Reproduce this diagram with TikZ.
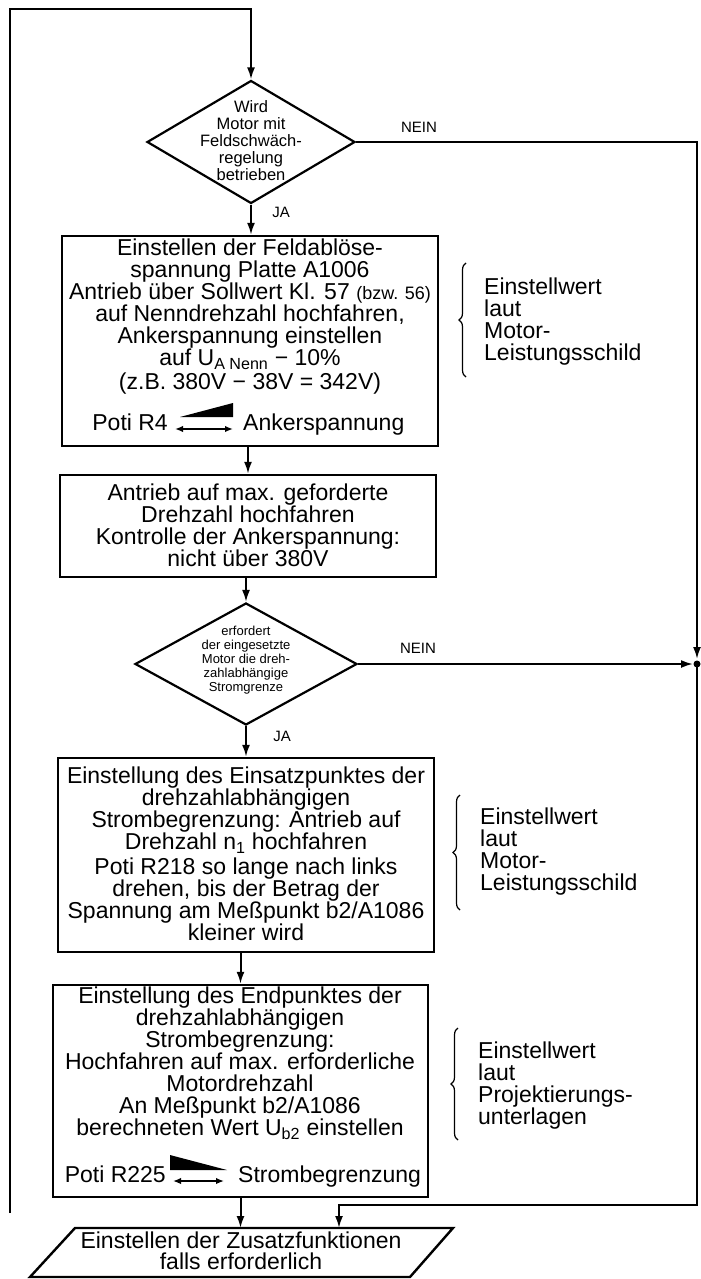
\documentclass[tikz,border=0pt]{standalone}
\usepackage{fontspec}
\setmainfont{Liberation Sans}
\usetikzlibrary{arrows.meta,calc,shapes.geometric,decorations.pathreplacing}
\newcommand{\boxfont}{\fontsize{23}{22}\selectfont}
\newcommand{\diafont}{\fontsize{16.5}{17}\selectfont}
\newcommand{\smalldiafont}{\fontsize{13}{14}\selectfont}
\newcommand{\labfont}{\fontsize{15}{15}\selectfont}

\begin{document}
\begin{tikzpicture}[x=1pt,y=-1pt,>={Latex[length=12pt,width=8pt]},
      box/.style={draw,line width=2.4pt,inner sep=0pt,minimum width=376pt},
      dia/.style={draw,diamond,line width=2.2pt,inner sep=0pt},
      txt/.style={align=center,inner sep=0pt,font=\boxfont},
      lab/.style={inner sep=0pt,font=\labfont},
      flow/.style={line width=2pt},
      potiarrow/.style={<->,line width=1.8pt,>={Latex[length=8pt,width=6.5pt]}},
      brc/.style={decorate,decoration={brace,amplitude=7pt},line width=1.2pt}]

      \useasboundingbox (0,0) rectangle (701,1279);

      % decisions
      \node[dia,minimum width=208pt,minimum height=123pt] (d1) at (251, 142) {};
      \node[dia,minimum width=222pt,minimum height=122pt] (d2) at (246, 664) {};
      \node[align=center,inner sep=0pt,font=\diafont] (d1t) at (251, 141)
        {Wird\\Motor mit\\Feldschwäch-\\regelung\\betrieben};
      \node[align=center,inner sep=0pt,font=\smalldiafont] (d2t) at (246, 660)
        {erfordert\\der eingesetzte\\Motor die dreh-\\zahlabhängige\\Stromgrenze};

      % steps
      \node[box,minimum height=210pt] (b1) at (250, 341) {};
      \node[box,minimum height=102pt] (b2) at (248, 526) {};
      \node[box,minimum height=194pt] (b3) at (246, 855) {};
      \node[box,minimum height=212pt,minimum width=375pt] (b4) at (240.5,1091) {};

      \node[txt] (b1t) at (250, 317) {Einstellen der Feldablöse-\\spannung Platte A1006\\
        Antrieb über Sollwert Kl. 57 {\fontsize{18}{22}\selectfont(bzw. 56)}\\
        auf Nenndrehzahl hochfahren,\\Ankerspannung einstellen\\
        auf U\textsubscript{A Nenn} − 10\%\\[2pt](z.B. 380V − 38V = 342V)};
      \node[txt] (b2t) at (248, 525) {Antrieb auf max. geforderte\\Drehzahl hochfahren\\
        Kontrolle der Ankerspannung:\\nicht über 380V};
      \node[txt] (b3t) at (246, 854) {Einstellung des Einsatzpunktes der\\
        drehzahlabhängigen\\Strombegrenzung: Antrieb auf\\Drehzahl n\textsubscript{1} hochfahren\\[3pt]
        Poti R218 so lange nach links\\drehen, bis der Betrag der\\
        Spannung am Meßpunkt b2/A1086\\kleiner wird};
      \node[txt] (b4t) at (240,1063) {Einstellung des Endpunktes der\\drehzahlabhängigen\\
        Strombegrenzung:\\Hochfahren auf max. erforderliche\\Motordrehzahl\\
        An Meßpunkt b2/A1086\\berechneten Wert U\textsubscript{b2} einstellen};

      % poti lines
      \node[txt,anchor=base east] (r4)   at (168, 430) {Poti R4};
      \node[txt,anchor=base west] (ank)  at (243, 430) {Ankerspannung};
      \fill ($(r4.base east)+(12,-13)$) -- ($(r4.base east)+(65,-13)$)
            -- ($(r4.base east)+(65,-27)$) -- cycle;
      \draw[potiarrow] ($(r4.base east)+(7,-1)$) -- ($(ank.base west)+(-10,-1)$);

      \node[txt,anchor=base east] (r225) at (166,1182) {Poti R225};
      \node[txt,anchor=base west] (strb) at (238,1182) {Strombegrenzung};
      \fill ($(r225.base east)+(4,-27)$) -- ($(r225.base east)+(4,-12)$)
            -- ($(r225.base east)+(61,-12)$) -- cycle;
      \draw[potiarrow] ($(r225.base east)+(7,-1)$) -- ($(strb.base west)+(-14,-1)$);

      % end
      \node[txt,font=\fontsize{23}{21}\selectfont] (par) at (241,1251)
        {Einstellen der Zusatzfunktionen\\falls erforderlich};
      \coordinate (ptop) at (241,1228);
      \draw[line width=2.4pt] (30,1277) -- (410,1277) -- (453,1228) -- (75,1228) -- cycle;

      % notes
      \draw[brc] (466, 377) -- (466, 263);
      \draw[brc] (460, 910) -- (460, 795);
      \draw[brc] (458,1140) -- (458,1028);
      \node[txt,align=left,anchor=west] (n1) at (484, 322)
        {Einstellwert\\laut\\Motor-\\Leistungsschild};
      \node[txt,align=left,anchor=west] (n2) at (480, 852)
        {Einstellwert\\laut\\Motor-\\Leistungsschild};
      \node[txt,align=left,anchor=west] (n3) at (478,1086)
        {Einstellwert\\laut\\Projektierungs-\\unterlagen};

      % connectors
      \coordinate (lb) at ( 10,1213);
      \coordinate (lt) at ( 10,   9);
      \coordinate (rt) at (697, 142);
      \coordinate (mrg) at (697, 664);
      \coordinate (rb) at (697,1205);
      \coordinate (ret) at (339,1205);

      \draw[->,flow] (lb) -- (lt) -- (lt -| d1.north) -- (d1.north);
      \draw[->,flow] (d1.south) -- (d1.south |- b1.north);
      \draw[->,flow] (b1.south -| b2.north) -- (b2.north);
      \draw[->,flow] (b2.south -| d2.north) -- (d2.north);
      \draw[->,flow] (d2.south) -- (d2.south |- b3.north);
      \draw[->,flow] (b3.south -| b4.north) -- (b4.north);
      \draw[->,flow] (b4.south) -- (b4.south |- ptop);

      \draw[->,flow,shorten >=5pt] (d1.east) -- (rt) -- (mrg);
      \draw[->,flow,shorten >=4pt] (d2.east) -- (mrg);
      \fill (mrg) circle (3.5pt);
      \draw[->,flow] (mrg) -- (rb) -- (ret) -- (ret |- ptop);

      \node[lab] (ja1)   at (281, 212) {JA};
      \node[lab] (ja2)   at (282, 736) {JA};
      \node[lab] (nein1) at (419, 127) {NEIN};
      \node[lab] (nein2) at (418, 648) {NEIN};
\end{tikzpicture}
\end{document}
